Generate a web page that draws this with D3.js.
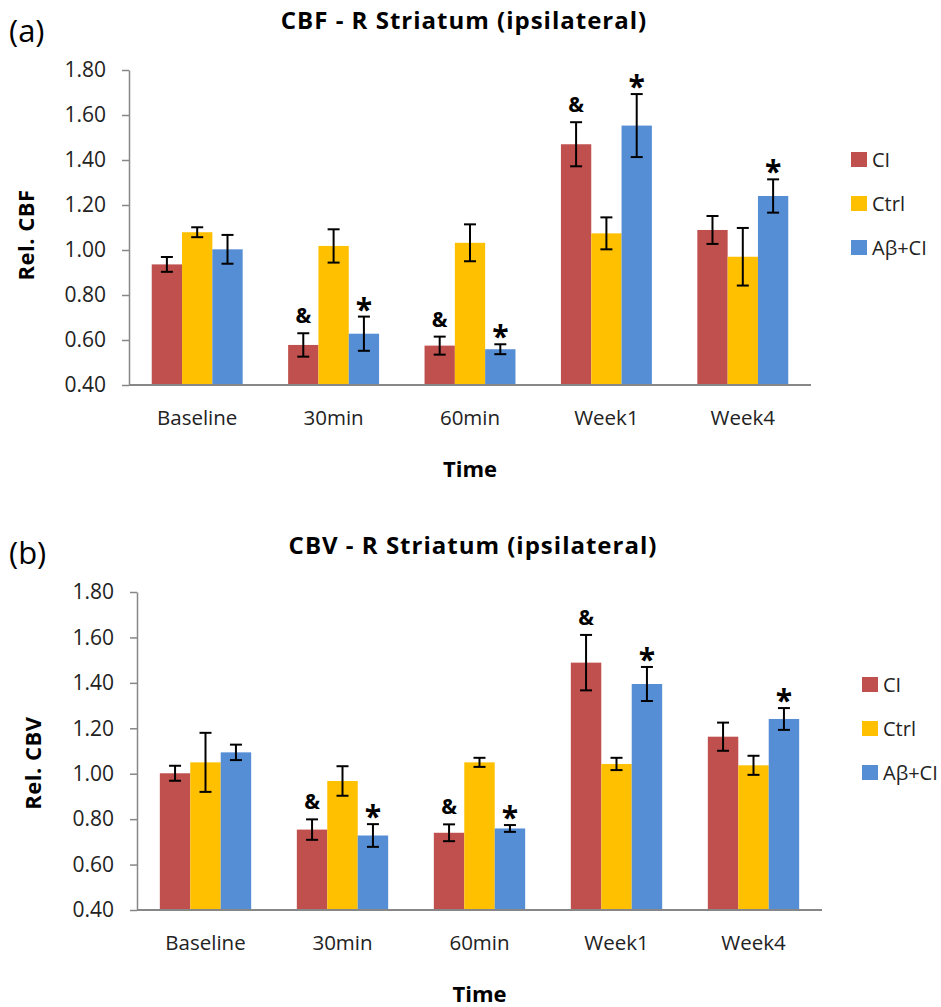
<!DOCTYPE html>
<html>
<head>
<meta charset="utf-8">
<script src="https://cdn.jsdelivr.net/npm/d3@7"></script>
<style>
  body { margin: 0; background: #fff; }
  svg { display: block; font-family: "Open Sans", sans-serif; }
</style>
</head>
<body>
<div id="svg-container"></div>
<script>
const categories = ["Baseline", "30min", "60min", "Week1", "Week4"]
const seriesNames = ["CI", "Ctrl", "Aβ+CI"]
const yTicks = [0.4, 0.6, 0.8, 1.0, 1.2, 1.4, 1.6, 1.8]

// panel (a) CBF
const cbfCI = [0.936, 0.578, 0.575, 1.470, 1.089]
const cbfCIErr = [0.033, 0.052, 0.040, 0.098, 0.062]
const cbfCtrl = [1.079, 1.018, 1.032, 1.074, 0.970]
const cbfCtrlErr = [0.022, 0.074, 0.082, 0.071, 0.128]
const cbfAbCI = [1.003, 0.628, 0.559, 1.553, 1.240]
const cbfAbCIErr = [0.064, 0.076, 0.022, 0.140, 0.074]

// panel (b) CBV
const cbvCI = [1.002, 0.754, 0.740, 1.489, 1.163]
const cbvCIErr = [0.033, 0.045, 0.037, 0.122, 0.062]
const cbvCtrl = [1.050, 0.968, 1.050, 1.043, 1.037]
const cbvCtrlErr = [0.130, 0.065, 0.020, 0.027, 0.042]
const cbvAbCI = [1.094, 0.728, 0.759, 1.395, 1.241]
const cbvAbCIErr = [0.034, 0.050, 0.015, 0.075, 0.048]

// significance marks: "&" over CI bars, "*" over Aβ+CI bars
const ampMarks = ["30min", "60min", "Week1"]
const starMarks = ["30min", "60min", "Week1", "Week4"]

const colors = ["#C0504D", "#FFC000", "#558ED5"]

const svg = d3.select("#svg-container")
  .append("svg")
    .attr("width", 941)
    .attr("height", 1007)

const drawPanel = (cfg) => {
  const g = svg.append("g")

  const xScale = d3.scaleBand()
    .domain(categories)
    .range([cfg.left, cfg.right])

  const xInner = d3.scaleBand()
    .domain(seriesNames)
    .range([0, xScale.bandwidth()])
    .paddingOuter(0.75)

  const yScale = d3.scaleLinear()
    .domain([0.4, 1.8])
    .range([cfg.bottom, cfg.top])

  const rows = []
  categories.forEach((c, i) => {
    seriesNames.forEach((s, j) => {
      rows.push({cat: c, series: s, idx: j, value: cfg.values[j][i], err: cfg.errs[j][i]})
    })
  })

  const barMid = d => xScale(d.cat) + xInner(d.series) + xInner.bandwidth() / 2

  // bars
  g.selectAll("rect.bar")
    .data(rows)
    .join("rect")
      .attr("class", "bar")
      .attr("x", d => xScale(d.cat) + xInner(d.series))
      .attr("y", d => yScale(d.value))
      .attr("width", xInner.bandwidth())
      .attr("height", d => yScale(0.4) - yScale(d.value))
      .attr("fill", d => colors[d.idx])

  // error bars
  const eb = g.selectAll("g.err")
    .data(rows)
    .join("g")
      .attr("class", "err")
      .attr("transform", d => `translate(${barMid(d)}, 0)`)
      .attr("stroke", "black")
      .attr("stroke-width", 2)

  eb.append("line")
    .attr("y1", d => yScale(d.value + d.err))
    .attr("y2", d => yScale(d.value - d.err))
  eb.append("line")
    .attr("x1", -6).attr("x2", 6)
    .attr("y1", d => yScale(d.value + d.err))
    .attr("y2", d => yScale(d.value + d.err))
  eb.append("line")
    .attr("x1", -6).attr("x2", 6)
    .attr("y1", d => yScale(d.value - d.err))
    .attr("y2", d => yScale(d.value - d.err))

  // marks
  g.selectAll("text.amp")
    .data(rows.filter(d => d.series === "CI" && ampMarks.includes(d.cat)))
    .join("text")
      .attr("class", "amp")
      .attr("x", barMid)
      .attr("y", d => yScale(d.value + d.err) - 10)
      .attr("text-anchor", "middle")
      .style("font-size", "21px")
      .style("font-weight", "bold")
      .text("&")

  g.selectAll("text.star")
    .data(rows.filter(d => d.series === "Aβ+CI" && starMarks.includes(d.cat)))
    .join("text")
      .attr("class", "star")
      .attr("x", barMid)
      .attr("y", d => yScale(d.value + d.err) + 3)
      .attr("text-anchor", "middle")
      .style("font-size", "30px")
      .style("font-weight", "bold")
      .text("*")

  // y axis
  const yAxis = g.append("g")
    .attr("transform", `translate(${cfg.left}, 0)`)
    .call(d3.axisLeft(yScale).tickValues(yTicks).tickFormat(d3.format(".2f")).tickSize(7).tickSizeOuter(0))
  yAxis.select(".domain").attr("stroke", "#878787").attr("stroke-width", 1.5)
  yAxis.selectAll(".tick line").attr("stroke", "#878787").attr("stroke-width", 1.5)
  yAxis.selectAll(".tick text")
    .attr("x", -23)
    .attr("fill", "#222")
    .style("font-size", "21px")
    .style("font-family", "Open Sans, sans-serif")

  // x axis line
  g.append("line")
    .attr("x1", cfg.left).attr("x2", cfg.right)
    .attr("y1", yScale(0.4)).attr("y2", yScale(0.4))
    .attr("stroke", "#878787")
    .attr("stroke-width", 2)

  g.selectAll("text.cat")
    .data(categories)
    .join("text")
      .attr("class", "cat")
      .attr("x", d => xScale(d) + xScale.bandwidth() / 2)
      .attr("y", cfg.bottom + 40)
      .attr("text-anchor", "middle")
      .attr("fill", "#222")
      .style("font-size", "20.5px")
      .text(d => d)

  // titles
  g.append("text")
    .attr("x", cfg.titleX)
    .attr("y", cfg.titleY)
    .attr("text-anchor", "middle")
    .style("font-size", "24px")
    .style("letter-spacing", "1px")
    .style("font-weight", "bold")
    .text(cfg.title)

  g.append("text")
    .attr("x", 9)
    .attr("y", cfg.tagY)
    .style("font-size", "31px")
    .text(cfg.tag)

  g.append("text")
    .attr("transform", `translate(${cfg.yTitleX}, ${cfg.yTitleY}) rotate(-90)`)
    .attr("text-anchor", "middle")
    .style("font-size", "22px")
    .style("letter-spacing", "0.5px")
    .style("font-weight", "bold")
    .text(cfg.yTitle)

  g.append("text")
    .attr("x", (cfg.left + cfg.right) / 2)
    .attr("y", cfg.timeY)
    .attr("text-anchor", "middle")
    .style("font-size", "22px")
    .style("font-weight", "bold")
    .text("Time")

  // legend
  const leg = g.selectAll("g.leg")
    .data(seriesNames)
    .join("g")
      .attr("class", "leg")
      .attr("transform", (d, i) => `translate(${cfg.legX}, ${cfg.legY + i * cfg.legStep})`)
  leg.append("rect")
    .attr("width", 16).attr("height", 15)
    .attr("fill", (d, i) => colors[i])
  leg.append("text")
    .attr("x", 21)
    .attr("y", 15)
    .attr("fill", "#222")
    .style("font-size", "20px")
    .text(d => d)
}

drawPanel({
  left: 129, right: 811, top: 70, bottom: 385,
  values: [cbfCI, cbfCtrl, cbfAbCI],
  errs: [cbfCIErr, cbfCtrlErr, cbfAbCIErr],
  title: "CBF - R Striatum (ipsilateral)", titleX: 464, titleY: 29,
  tag: "(a)", tagY: 42,
  yTitle: "Rel. CBF", yTitleX: 34, yTitleY: 235,
  timeY: 477,
  legX: 851, legY: 152, legStep: 44
})

drawPanel({
  left: 137, right: 822, top: 592, bottom: 910,
  values: [cbvCI, cbvCtrl, cbvAbCI],
  errs: [cbvCIErr, cbvCtrlErr, cbvAbCIErr],
  title: "CBV - R Striatum (ipsilateral)", titleX: 473, titleY: 554,
  tag: "(b)", tagY: 564,
  yTitle: "Rel. CBV", yTitleX: 41, yTitleY: 763,
  timeY: 1002,
  legX: 862, legY: 677, legStep: 44
})
</script>
</body>
</html>
